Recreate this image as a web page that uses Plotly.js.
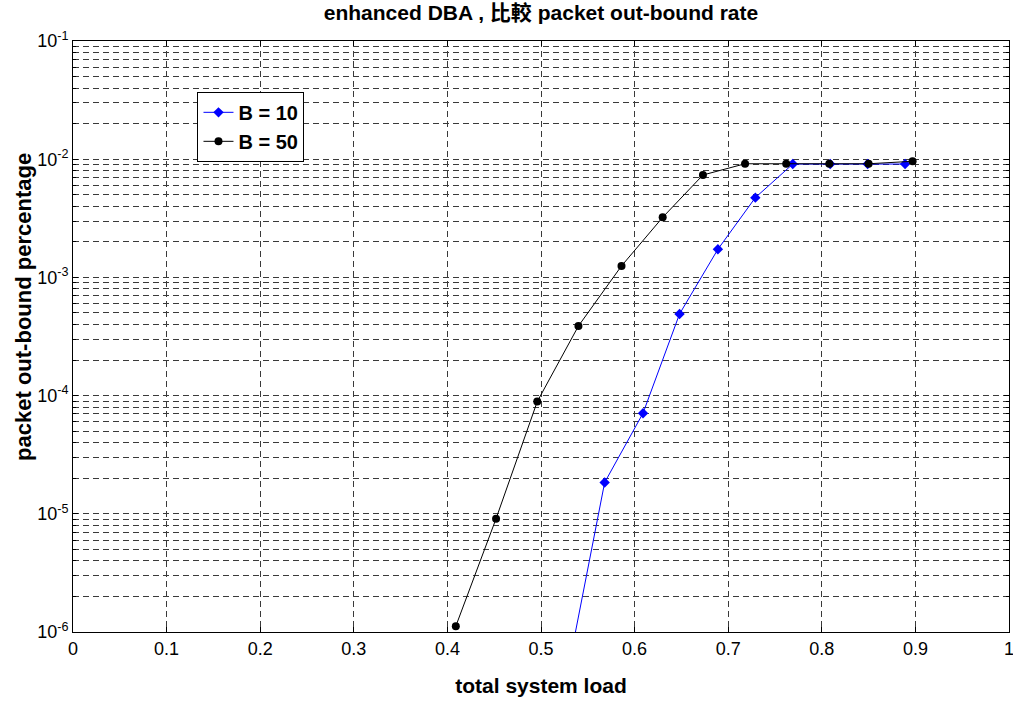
<!DOCTYPE html>
<html><head><meta charset="utf-8">
<script src="https://cdn.plot.ly/plotly-3.0.1.min.js"></script>
<style>html,body{margin:0;padding:0;background:#fff}#chart{width:1013px;height:701px}</style>
</head><body><div id="chart"></div>
<script>
// B = 10 series
const loadB10 = [0.527, 0.568, 0.609, 0.648, 0.689, 0.729, 0.769, 0.809, 0.849, 0.889];
const rateB10 = [4.0e-7, 1.84e-5, 7.1e-5, 4.9e-4, 1.73e-3, 4.73e-3, 9.1e-3, 9.1e-3, 9.1e-3, 9.1e-3];
// B = 50 series
const loadB50 = [0.409, 0.452, 0.496, 0.540, 0.586, 0.630, 0.673, 0.718, 0.762, 0.808, 0.850, 0.897];
const rateB50 = [1.12e-6, 9.1e-6, 8.9e-5, 3.88e-4, 1.25e-3, 3.22e-3, 7.35e-3, 9.15e-3, 9.15e-3, 9.15e-3, 9.15e-3, 9.6e-3];
// axis ticks
const xTicks = [0, 0.1, 0.2, 0.3, 0.4, 0.5, 0.6, 0.7, 0.8, 0.9, 1];
const yTickVals = [1e-6, 1e-5, 1e-4, 1e-3, 1e-2, 1e-1];
const yTickText = ['10<sup>-6</sup>', '10<sup>-5</sup>', '10<sup>-4</sup>', '10<sup>-3</sup>', '10<sup>-2</sup>', '10<sup>-1</sup>'];

const minorVals = [];
for (let e = -6; e < -1; e++) for (let m = 2; m <= 9; m++) minorVals.push(m * Math.pow(10, e));

const FONT = 'Liberation Sans, Arial, Noto Sans CJK TC, sans-serif';
const gridCol = '#3a3a3a';
const dash = '6px,4px';

const traces = [
  {x: loadB10, y: rateB10, name: 'B = 10', mode: 'lines+markers',
   line: {color: '#0000ff', width: 1}, marker: {symbol: 'diamond', size: 8, color: '#0000ff'}},
  {x: loadB50, y: rateB50, name: 'B = 50', mode: 'lines+markers',
   line: {color: '#000000', width: 1}, marker: {symbol: 'circle', size: 8, color: '#000000'}}
];

const layout = {
  width: 1013, height: 701,
  margin: {l: 73, r: 4, t: 41, b: 69},
  paper_bgcolor: '#fff', plot_bgcolor: '#fff',
  font: {family: FONT, color: '#000', size: 18},
  showlegend: true,
  title: {text: 'enhanced DBA , 比較 packet out-bound rate', x: 0.5, xref: 'paper', y: 0.992, yanchor: 'top',
          font: {family: FONT, size: 21, weight: 'bold', color: '#000'}},
  xaxis: {
    range: [0, 1], tickvals: xTicks, ticktext: xTicks.map(String),
    showline: true, linecolor: '#000', linewidth: 1, mirror: 'ticks',
    ticks: 'inside', ticklen: 5, tickcolor: '#000', ticklabeloverflow: 'allow',
    showgrid: true, gridcolor: gridCol, griddash: dash, gridwidth: 1,
    zeroline: false, tickfont: {family: FONT, size: 18, color: '#000'},
    title: {text: 'total system load', font: {size: 21, weight: 'bold'}, standoff: 20}
  },
  yaxis: {
    type: 'log', range: [-6, -1], tickvals: yTickVals, ticktext: yTickText,
    showline: true, linecolor: '#000', linewidth: 1, mirror: 'ticks',
    ticks: 'inside', ticklen: 5, tickcolor: '#000',
    showgrid: true, gridcolor: gridCol, griddash: dash, gridwidth: 1,
    zeroline: false, tickfont: {family: FONT, size: 18, color: '#000'},
    minor: {tickvals: minorVals, ticks: 'inside', ticklen: 3, tickcolor: '#000',
            showgrid: true, gridcolor: gridCol, griddash: dash, gridwidth: 1}
  },
  annotations: [{
    text: 'packet out-bound percentage', xref: 'paper', yref: 'paper',
    x: -0.0524, y: 0.55, xanchor: 'center', yanchor: 'middle', textangle: -90,
    showarrow: false, font: {size: 22, weight: 'bold'}
  }],
  legend: {x: 0.133, y: 0.914, xanchor: 'left', yanchor: 'top',
           bgcolor: '#fff', bordercolor: '#000', borderwidth: 1,
           font: {size: 20, weight: 'bold'}, tracegroupgap: 0}
};

Plotly.newPlot('chart', traces, layout, {displayModeBar: false, staticPlot: true});
</script></body></html>
